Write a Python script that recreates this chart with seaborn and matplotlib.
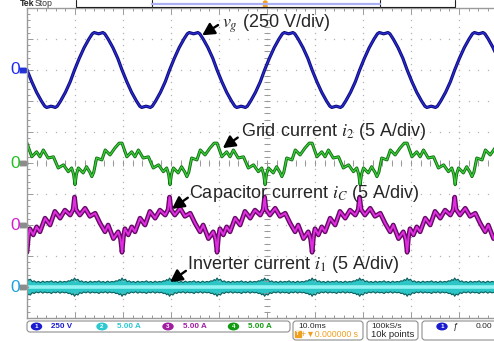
import numpy as np
import pandas as pd
import matplotlib
matplotlib.use("Agg")
import matplotlib.pyplot as plt
import seaborn as sns
from matplotlib.patches import FancyBboxPatch, Ellipse, Rectangle
from matplotlib.path import Path
from matplotlib.ticker import MultipleLocator

# scope settings
period = 19.8          # ms, spacing of the v_g peaks
volts_per_div = 250.0
amps_per_div = 5.0

# zero levels of the channels, in divisions from the screen centre
offset_vg = 3
offset_i2 = 0
offset_ic = -2
offset_i1 = -4

# one period of v_g (V)
vg_t = [0, 1, 2, 3, 3.7, 4.1, 4.6, 5.0, 5.4, 5.9, 6.3, 7, 8, 9,
        9.9, 10.9, 11.9, 12.9, 13.6, 14.0, 14.5, 14.9, 15.3, 15.8, 16.2, 16.9, 17.9, 18.9]
vg_v = [0, -95, -180, -250, -292, -302, -296, -292, -296, -302, -292, -250, -180, -95,
        0, 95, 180, 250, 292, 302, 296, 292, 296, 302, 292, 250, 180, 95]

# one period of grid current i2 (A)
i2_t = [0, 1.0, 2.0, 2.7, 3.4, 4.4, 5.5, 6.5, 7.6, 8.6, 9.3, 9.7, 10.0, 10.3, 10.7,
        11.7, 12.4, 13.1, 13.5, 13.9, 14.5, 15.6, 16.3, 17.3, 18.3, 19.2]
i2_a = [3.2, 1.0, 1.8, 1.0, 2.1, 0.8, 1.0, -0.8, -0.3, -1.4, -0.8, -1.8, -3.5, -1.8, -0.8,
        -1.6, -0.6, -1.5, -2.2, -1.5, 0.8, 0.5, 2.1, 1.3, 2.4, 3.2]

# one period of capacitor current iC (A)
ic_t = [0, 0.3, 0.6, 1.3, 2.0, 2.7, 3.75, 4.8, 5.8, 6.9, 7.9, 9.0, 9.6, 9.9, 10.2,
        11.0, 12.1, 13.1, 14.2, 15.2, 16.25, 16.9, 18.0, 19.0, 19.5]
ic_a = [-4.4, -1.8, -0.6, -1.6, -0.3, -1.1, 1.1, 0.0, 2.2, 1.1, 2.4, 1.6, 2.5, 4.5, 2.5,
        1.6, 2.7, 1.4, 1.9, 0.3, -1.1, 0.0, -2.2, -1.1, -2.3]

# half period of the inverter current i1 band (A), upper and lower edge
i1_t = [0, 0.3, 0.7, 1.1, 1.5, 1.9, 2.4, 2.8, 3.3, 3.7, 4.2, 4.6, 5.1, 5.5, 6.0,
        6.4, 6.9, 7.3, 7.8, 8.2, 8.6, 9.0, 9.3, 9.6]
i1_hi = [1.45, 1.1, 1.25, 0.85, 1.0, 0.75, 0.9, 0.7, 0.95, 0.75, 0.9, 0.8, 1.0, 0.75,
         0.9, 0.7, 0.95, 0.75, 0.9, 0.8, 1.0, 0.95, 1.2, 1.05]
i1_lo = [-1.5, -1.15, -1.3, -0.9, -1.05, -0.8, -0.95, -0.75, -1.0, -0.8, -0.95, -0.85,
         -1.05, -0.8, -0.95, -0.75, -1.0, -0.8, -0.95, -0.85, -1.05, -1.0, -1.25, -1.1]

# status bar texts
ch_labels = ["250 V", "5.00 A", "5.00 A", "5.00 A"]
ch_colors = ["#1a1ad0", "#2cc8d0", "#a01ca0", "#129a12"]


def repeat(t, y, per, n):
    tt = np.concatenate([np.asarray(t) + k * per for k in range(n)])
    return tt, np.tile(y, n)


sns.set_style("white")
plt.rcParams["font.family"] = ["Liberation Sans", "DejaVu Sans"]
plt.rcParams["mathtext.fontset"] = "stix"

fig = plt.figure(figsize=(4.94, 3.41), dpi=100)
ax = fig.add_axes([27 / 494, 23 / 341, 480 / 494, 310 / 341])
ax.set_xlim(0, 100)
ax.set_ylim(-5, 5)

# graticule
grid_c = "#b4b4b4"
for y in range(-4, 5):
    xs = np.arange(0, 100.1, 2)
    ax.plot(xs, np.full_like(xs, y), ls="none", marker="s", ms=0.9, color=grid_c, mew=0)
for x in range(10, 100, 10):
    ys = np.arange(-5, 5.01, 0.2)
    ax.plot(np.full_like(ys, x), ys, ls="none", marker="s", ms=0.9, color=grid_c, mew=0)
ys = np.arange(-5, 5.01, 0.2)
ax.plot(np.full_like(ys, 50), ys, ls="none", marker="_", ms=4, color="#999999", mew=0.7)
xs = np.arange(0, 100.1, 2)
ax.plot(xs, np.zeros_like(xs), ls="none", marker="|", ms=4, color="#999999", mew=0.7)

for s in ax.spines.values():
    s.set_color("#9a9a9a")
    s.set_linewidth(1.0)
ax.xaxis.set_major_locator(MultipleLocator(10))
ax.xaxis.set_minor_locator(MultipleLocator(2))
ax.yaxis.set_major_locator(MultipleLocator(1))
ax.yaxis.set_minor_locator(MultipleLocator(0.2))
ax.tick_params(which="both", direction="in", top=True, right=True, bottom=True, left=True,
               labelbottom=False, labelleft=False, color="#9a9a9a", width=0.7)
ax.tick_params(which="major", length=4)
ax.tick_params(which="minor", length=2.5)

# inverter current band
t1, hi = repeat(i1_t, i1_hi, period / 2, 12)
_, lo = repeat(i1_t, i1_lo, period / 2, 12)
y_hi = offset_i1 + hi / amps_per_div
y_lo = offset_i1 + lo / amps_per_div
ax.fill_between(t1, y_lo, y_hi, color="#2cc6c6", lw=0)
df1 = pd.DataFrame({"t": np.concatenate([t1, t1]),
                    "y": np.concatenate([y_hi, y_lo]),
                    "edge": ["hi"] * len(t1) + ["lo"] * len(t1)})
sns.lineplot(data=df1, x="t", y="y", units="edge", estimator=None, sort=False, ax=ax,
             color="#0b5e5e", lw=0.8, legend=False)
sns.lineplot(x=t1, y=(y_hi + y_lo) / 2, estimator=None, sort=False, ax=ax,
             color="#90f2f2", lw=2.6)

# capacitor current
tc, ac = repeat(ic_t, ic_a, period, 6)
yc = offset_ic + ac / amps_per_div
sns.lineplot(x=tc, y=yc, estimator=None, sort=False, ax=ax, color="#650a65", lw=3.4)
sns.lineplot(x=tc, y=yc, estimator=None, sort=False, ax=ax, color="#e22ee2", lw=1.4)

# grid current
tg, ag = repeat(i2_t, i2_a, period, 6)
yg = offset_i2 + ag / amps_per_div
sns.lineplot(x=tg, y=yg, estimator=None, sort=False, ax=ax, color="#146c14", lw=2.2)
sns.lineplot(x=tg, y=yg, estimator=None, sort=False, ax=ax, color="#3ad23a", lw=0.9)

# grid voltage
tv, vv = repeat(vg_t, vg_v, period, 6)
yv = offset_vg + vv / volts_per_div
sns.lineplot(x=tv, y=yv, estimator=None, sort=False, ax=ax, color="#0e0e78", lw=2.3)
sns.lineplot(x=tv, y=yv, estimator=None, sort=False, ax=ax, color="#2a2ad8", lw=0.9)

# channel zero markers
ytr = ax.get_yaxis_transform()
tag = Path([(-1, -0.6), (0.35, -0.6), (1, 0), (0.35, 0.6), (-1, 0.6), (-1, -0.6)])
zero_cols = ["#1f2cf0", "#22c022", "#d21ed2", "#1aa2de"]
tag_cols = ["#2433d8", "#8c8c8c", "#8c8c8c", "#8c8c8c"]
for off, zc, tc_ in zip([offset_vg, offset_i2, offset_ic, offset_i1], zero_cols, tag_cols):
    ax.text(-0.025, off, "0", transform=ytr, color=zc, fontsize=12.5,
            ha="center", va="center", clip_on=False)
    ax.plot([-0.007], [off], transform=ytr, marker=tag, ms=7, color=tc_, mew=0, clip_on=False)

# annotations
arrow = dict(arrowstyle="-|>,head_length=0.6,head_width=0.32", color="k", lw=1.7,
             mutation_scale=12, shrinkA=0, shrinkB=0)
fs = 13
ax.annotate("", xy=(36.5, 4.12), xytext=(39.8, 4.45), arrowprops=arrow)
ax.text(40.6, 4.5, r"$v_g$ (250 V/div)", fontsize=fs, va="center", ha="left")
ax.annotate("", xy=(40.8, 0.48), xytext=(43.9, 0.82), arrowprops=arrow)
ax.text(44.6, 1.0, r"Grid current $i_2$ (5 A/div)", fontsize=fs, va="center", ha="left")
ax.annotate("", xy=(30.2, -1.48), xytext=(33.5, -1.12), arrowprops=arrow)
ax.text(33.8, -0.97, r"Capacitor current $i_C$ (5 A/div)", fontsize=fs, va="center", ha="left")
ax.annotate("", xy=(29.8, -3.84), xytext=(33.1, -3.48), arrowprops=arrow)
ax.text(33.4, -3.29, r"Inverter current $i_1$ (5 A/div)", fontsize=fs, va="center", ha="left")

# overlay in pixel units for the scope status areas
ov = fig.add_axes([0, 0, 1, 1], zorder=-1)
ov.set_xlim(0, 494)
ov.set_ylim(341, 0)
ov.axis("off")

ov.text(20, 4, "Tek", fontsize=6.3, fontweight="bold", va="center", ha="left")
ov.text(35, 4, "Stop", fontsize=6.3, color="#333333", va="center", ha="left")
ov.plot([76, 455], [6.5, 6.5], color="k", lw=0.8)
for x in [76, 152, 380, 455]:
    ov.plot([x, x], [0, 7], color="#222222", lw=0.8)
ov.plot([152, 380], [3.5, 3.5], color="#aab0f2", lw=1.6)
ov.add_patch(FancyBboxPatch((263.5, 1), 3.5, 8, boxstyle="round,pad=0,rounding_size=1.5",
                            color="#f5a020"))

box_c = "#8e8e8e"
boxes = [(27, 321, 263, 11), (293, 321, 70, 19), (367, 321, 51, 19), (422, 321, 80, 19)]
for bx, by, bw, bh in boxes:
    ov.add_patch(FancyBboxPatch((bx, by), bw, bh, boxstyle="round,pad=0,rounding_size=3",
                                fc="white", ec=box_c, lw=0.8))

ell_x = [36.5, 102, 168, 233.5]
txt_x = [51, 117, 183, 248]
for i, (ex, tx, lab, c) in enumerate(zip(ell_x, txt_x, ch_labels, ch_colors)):
    ov.add_patch(Ellipse((ex, 326.5), 10, 6.5, color=c))
    ov.text(ex, 326.7, str(i + 1), color="white", fontsize=4.5, fontweight="bold",
            ha="center", va="center")
    ov.text(tx, 326.7, lab, color=c, fontsize=5.8, fontweight="bold", ha="left", va="center")

ov.text(298, 326.2, "10.0ms", fontsize=6, ha="left", va="center")
ov.add_patch(Rectangle((295, 330.5), 5.5, 6, color="#f0a020"))
ov.text(297.7, 333.6, "T", fontsize=4, color="white", fontweight="bold", ha="center", va="center")
ov.text(301, 334, "+\u25bc0.000000 s", fontsize=6.3, color="#f0a020", ha="left", va="center")
ov.text(371, 326.2, "100kS/s", fontsize=6, ha="left", va="center")
ov.text(371, 334.5, "10k points", fontsize=6.8, ha="left", va="center")
ov.add_patch(Ellipse((442, 326.5), 10, 6.5, color="#1a1ad0"))
ov.text(442, 326.7, "1", color="white", fontsize=4.5, fontweight="bold", ha="center", va="center")
ov.text(453, 326.5, "\u0192", fontsize=6.5, ha="left", va="center", style="italic")
ov.text(476, 326.5, "0.00", fontsize=6, ha="left", va="center")

fig.savefig("out.png", dpi=100)
